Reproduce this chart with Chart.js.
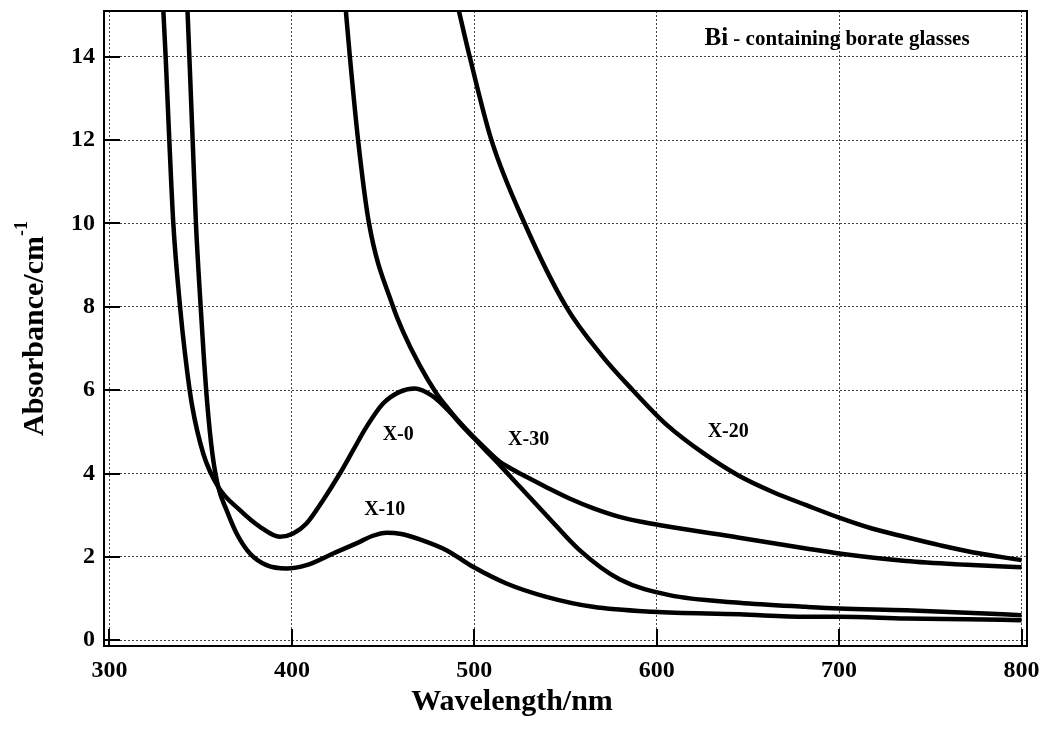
<!DOCTYPE html>
<html><head><meta charset="utf-8">
<script src="https://cdn.jsdelivr.net/npm/chart.js@4.4.1/dist/chart.umd.min.js"></script>
<style>html,body{margin:0;padding:0;background:#fff}#wrap{width:1049px;height:731px;position:relative}</style>
</head><body><div id="wrap"><canvas id="c"></canvas></div>
<script>
const xTicks = [300, 400, 500, 600, 700, 800];
const yTicks = [0, 2, 4, 6, 8, 10, 12, 14];

const x0Wl  = [329.3, 330.8, 332.8, 335, 338.7, 341.4, 345.1, 351.4, 359.6, 371.5, 382.5, 393.4, 400.7, 408, 417.1, 426.3, 433.6, 440.9, 450, 459.1, 467.4, 477, 486, 493, 500, 507, 514, 525, 539.5, 557.7, 579.6, 607, 645.3, 681.9, 700, 736.6, 770, 800];
const x0Abs = [15.3, 14, 12, 10, 8, 6.88, 5.68, 4.48, 3.68, 3.12, 2.72, 2.48, 2.56, 2.80, 3.36, 4.0, 4.56, 5.12, 5.68, 5.96, 6.04, 5.86, 5.50, 5.16, 4.84, 4.52, 4.20, 3.68, 3.00, 2.16, 1.46, 1.08, 0.90, 0.80, 0.76, 0.72, 0.66, 0.60];

const x10Wl  = [342.6, 343.8, 345.6, 347.4, 350.0, 351.6, 353.6, 356.4, 359.6, 364.2, 369.7, 377, 386.1, 397.1, 408, 422.6, 437.2, 444, 452, 460, 470.1, 484.7, 499.3, 517.6, 539.5, 565, 597.9, 645.3, 681.9, 700, 736.6, 770, 800];
const x10Abs = [15.3, 14, 12, 10, 8, 6.88, 5.68, 4.48, 3.68, 3.12, 2.56, 2.08, 1.80, 1.72, 1.80, 2.08, 2.36, 2.50, 2.58, 2.55, 2.42, 2.16, 1.76, 1.36, 1.04, 0.80, 0.68, 0.62, 0.56, 0.56, 0.52, 0.50, 0.48];

const x20Wl  = [490.5, 497.5, 509.4, 527.6, 550.4, 570.5, 586.9, 605.2, 625.2, 645.3, 664, 682, 700, 718, 737, 755, 773, 800];
const x20Abs = [15.3, 14, 12, 10, 8, 6.8, 6.0, 5.18, 4.50, 3.94, 3.55, 3.24, 2.94, 2.68, 2.47, 2.28, 2.11, 1.92];

const x30Wl  = [429.2, 431.8, 436.3, 442.3, 455.5, 461, 470, 479, 486, 493, 500, 507, 514, 520, 528.5, 540, 552.2, 565, 579.6, 593, 607, 645.3, 681.9, 700, 736.6, 770, 800];
const x30Abs = [15.3, 14, 12, 10, 8, 7.4, 6.6, 5.94, 5.54, 5.18, 4.86, 4.56, 4.28, 4.12, 3.92, 3.66, 3.40, 3.17, 2.96, 2.83, 2.72, 2.46, 2.20, 2.08, 1.90, 1.81, 1.75];

const curveLabels = ['X-0', 'X-10', 'X-20', 'X-30'];
const labelWl  = [458.3, 450.9, 639.2, 529.8];
const labelAbs = [4.92, 3.12, 4.99, 4.8];

const noteBold = 'Bi';
const noteRest = ' - containing borate glasses';
const noteWl = 626.2, noteAbs = 14.28;

const xTitle = 'Wavelength/nm';
const yTitle = 'Absorbance/cm';
const yTitleSup = '-1';

const FONT = "'Liberation Serif', 'Times New Roman', serif";

function pts(xs, ys) { return xs.map((x, i) => ({ x: x, y: ys[i] })); }
function ds(xs, ys) {
  return { data: pts(xs, ys), showLine: true, borderColor: '#000', borderWidth: 4.5,
           pointRadius: 0, tension: 0.4, cubicInterpolationMode: 'monotone', fill: false };
}

const deco = {
  id: 'deco',
  afterDatasetsDraw(chart) {
    const ctx = chart.ctx, a = chart.chartArea, xs = chart.scales.x, ys = chart.scales.y;
    ctx.save();
    ctx.strokeStyle = '#000'; ctx.lineWidth = 2;
    yTicks.forEach(v => { const py = Math.round(ys.getPixelForValue(v)); ctx.beginPath(); ctx.moveTo(a.left, py); ctx.lineTo(a.left + 16, py); ctx.stroke(); });
    xTicks.forEach(v => { const px = Math.round(xs.getPixelForValue(v)); ctx.beginPath(); ctx.moveTo(px, a.bottom); ctx.lineTo(px, a.bottom - 17); ctx.stroke(); });
    ctx.lineWidth = 2;
    ctx.strokeRect(a.left, a.top, a.right - a.left, a.bottom - a.top);
    ctx.fillStyle = '#000';
    ctx.font = 'bold 20px ' + FONT; ctx.textAlign = 'center'; ctx.textBaseline = 'middle';
    curveLabels.forEach((t, i) => ctx.fillText(t, xs.getPixelForValue(labelWl[i]), ys.getPixelForValue(labelAbs[i])));
    ctx.textAlign = 'left'; ctx.textBaseline = 'alphabetic';
    const nx = xs.getPixelForValue(noteWl), ny = ys.getPixelForValue(noteAbs);
    ctx.font = 'bold 25px ' + FONT; ctx.fillText(noteBold, nx, ny);
    const bw = ctx.measureText(noteBold).width;
    ctx.font = 'bold 21px ' + FONT; ctx.fillText(noteRest, nx + bw, ny);
    ctx.font = 'bold 30px ' + FONT; ctx.textAlign = 'center';
    ctx.fillText(xTitle, 512, 710);
    ctx.font = 'bold 30px ' + FONT;
    const mw = ctx.measureText(yTitle).width;
    ctx.font = 'bold 18px ' + FONT;
    const sw = ctx.measureText(yTitleSup).width;
    const total = mw + sw;
    const cy = (a.top + a.bottom) / 2;
    ctx.translate(43, cy + total / 2);
    ctx.rotate(-Math.PI / 2);
    ctx.textAlign = 'left';
    ctx.font = 'bold 30px ' + FONT; ctx.fillText(yTitle, 0, 0);
    ctx.font = 'bold 18px ' + FONT; ctx.fillText(yTitleSup, mw, -16);
    ctx.restore();
  }
};

new Chart(document.getElementById('c'), {
  type: 'scatter',
  data: { datasets: [ds(x0Wl, x0Abs), ds(x10Wl, x10Abs), ds(x20Wl, x20Abs), ds(x30Wl, x30Abs)] },
  options: {
    responsive: true, maintainAspectRatio: false, animation: false,
    layout: { padding: { top: 11, right: 22, left: 0, bottom: 0 } },
    plugins: { legend: { display: false }, tooltip: { enabled: false } },
    scales: {
      x: {
        type: 'linear', min: 297, max: 803,
        afterBuildTicks: s => { s.ticks = xTicks.map(v => ({ value: v })); },
        afterFit: s => { s.height = 85; s.paddingLeft = 0; s.paddingRight = 0; },
        ticks: { color: '#000', font: { family: FONT, size: 24, weight: 'bold' }, padding: 10, maxRotation: 0 },
        grid: { color: '#444', lineWidth: 1, drawTicks: false },
        border: { display: false, dash: [2, 2] }
      },
      y: {
        type: 'linear', min: -0.14, max: 15.1,
        afterBuildTicks: s => { s.ticks = yTicks.map(v => ({ value: v })); },
        afterFit: s => { s.width = 104; s.paddingTop = 0; s.paddingBottom = 0; },
        ticks: { color: '#000', font: { family: FONT, size: 24, weight: 'bold' }, padding: 9 },
        grid: { color: '#444', lineWidth: 1, drawTicks: false },
        border: { display: false, dash: [2, 2] }
      }
    }
  },
  plugins: [deco]
});
</script>
</body></html>
